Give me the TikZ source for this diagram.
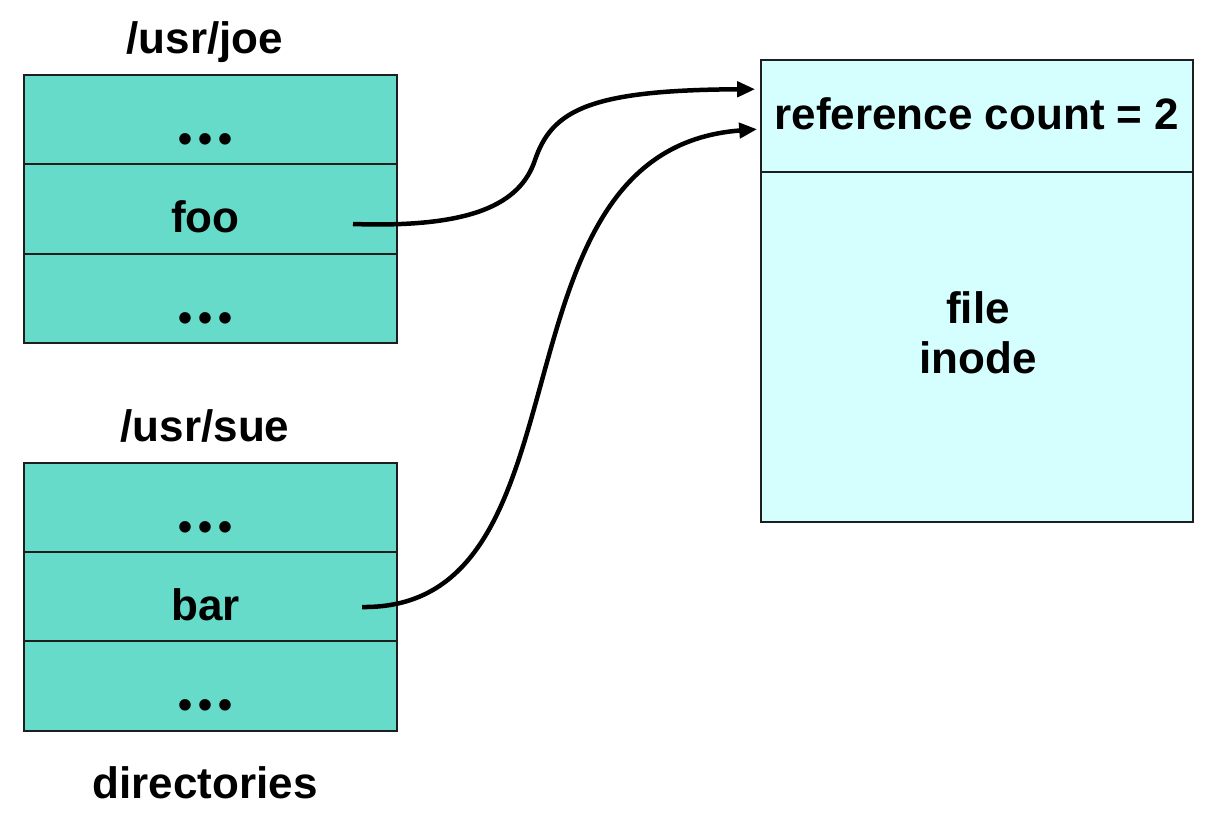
\documentclass[tikz,border=0pt]{standalone}
\usepackage{fontspec}
\setmainfont{Liberation Sans}
\usetikzlibrary{arrows.meta,calc}
\definecolor{dircol}{HTML}{66DBC9}
\definecolor{inocol}{HTML}{D5FEFE}
\definecolor{edgecol}{HTML}{1E1E1E}
\newcommand{\bigfont}{\fontsize{44}{50}\selectfont\bfseries}
\newcommand{\lft}{\kern-10pt}
\newcommand{\dotsrow}{\lft\raisebox{-9pt}{\fontsize{40}{40}\selectfont •\kern6pt•\kern6pt•}}
\tikzset{
  dirrow/.style={draw=edgecol, line width=1.6pt, fill=dircol, minimum width=373pt,
    minimum height=89.5pt, inner sep=0pt, text height=47pt, text depth=0pt, font=\bigfont},
  inobox/.style={draw=edgecol, line width=1.6pt, fill=inocol, minimum width=432pt, inner sep=0pt, font=\bigfont},
  lbl/.style={anchor=base, inner sep=0pt, font=\bigfont},
  link/.style={line width=4.5pt, -{Triangle[length=18pt,width=15pt]}}
}
\begin{document}
\begin{tikzpicture}[x=1pt,y=-1pt]
\useasboundingbox (0,0) rectangle (1214,828);
% /usr/joe
\node[lbl] (joe) at (205,53) {/usr/joe};
\node[dirrow] (j1) at (210.5,119.5) {\dotsrow};
\node[dirrow] (j2) at (210.5,209) {\lft foo};
\node[dirrow] (j3) at (210.5,298.5) {\dotsrow};
% /usr/sue
\node[lbl] (sue) at (205,441.5) {/usr/sue};
\node[dirrow] (s1) at (210.5,507.5) {\dotsrow};
\node[dirrow] (s2) at (210.5,596.5) {\lft bar};
\node[dirrow] (s3) at (210.5,686) {\dotsrow};
\node[lbl] (dirs) at (205,798) {directories};
% inode
\node[inobox, minimum height=112pt, text height=26pt, text depth=0pt] (ref) at (977,116) {reference count = 2};
\node[inobox, minimum height=350pt] (ino) at (977,347) {};
\node[lbl] (file) at (978,323) {file};
\node[lbl] (inode) at (978,373) {inode};
% connectors
\coordinate (fooS) at (353,224);
\coordinate (barS) at (362,607);
\coordinate (refA) at ($(ref.north west)+(-5,30)$);
\coordinate (refB) at ($(ref.north west)+(-3,70)$);
\draw[link] (fooS) .. controls (470,228) and (520,205) .. (535,160)
  .. controls (552,110) and (590,90) .. (refA);
\draw[link] (barS) .. controls (600,610) and (480,150) .. (refB);
\end{tikzpicture}
\end{document}
